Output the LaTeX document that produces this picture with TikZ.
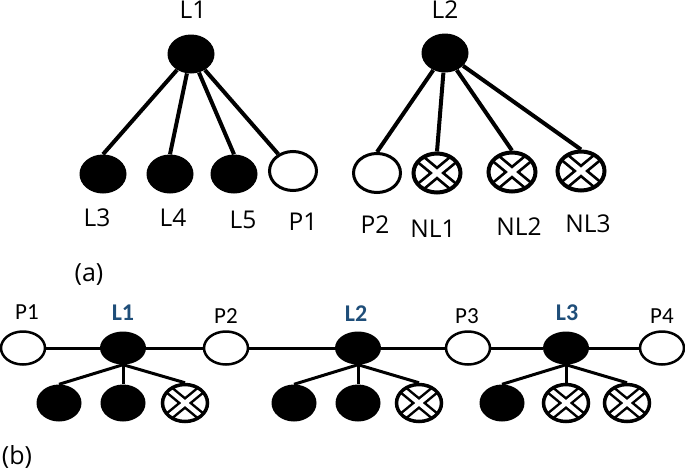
\documentclass[tikz,border=0pt]{standalone}
\usepackage{fontspec}
\usetikzlibrary{shapes.geometric}
\newfontfamily\treefont{Open Sans}
\newfontfamily\chainfont{Carlito}
\definecolor{leaderblue}{RGB}{31,78,121}
\newcommand\crossmark[2]{% #1 = outer width, #2 = inner width
  \draw[black,line width=#1]
    (path picture bounding box.south west) -- (path picture bounding box.north east)
    (path picture bounding box.north west) -- (path picture bounding box.south east);
  \draw[white,line width=#2]
    (path picture bounding box.south west) -- (path picture bounding box.north east)
    (path picture bounding box.north west) -- (path picture bounding box.south east);
}
\tikzset{
  member/.style={ellipse, inner sep=0pt, minimum width=47pt, minimum height=39pt},
  leader/.style={member, fill=black},
  plain/.style={member, draw, fill=white, line width=3pt},
  crossed/.style={member, draw, fill=white, line width=4pt,
    path picture={\crossmark{10.5pt}{5pt}}},
  % smaller members of the chain (b)
  chainhead/.style={leader, minimum width=46pt, minimum height=33pt},
  chainplain/.style={plain, minimum width=44pt, minimum height=33pt, line width=2.5pt},
  chainleaf/.style={leader, minimum width=45pt, minimum height=37pt},
  chaincross/.style={crossed, minimum width=45pt, minimum height=37pt, line width=3.5pt,
    path picture={\crossmark{9.5pt}{4.5pt}}},
  treeedge/.style={line width=4pt},
  chainedge/.style={line width=3pt},
  treelabel/.style={anchor=base, inner sep=0pt, font=\treefont\fontsize{24.5}{29}\selectfont},
  sublabel/.style={treelabel, font=\treefont\fontsize{25}{30}\selectfont},
  chainlabel/.style={anchor=base, inner sep=0pt, font=\chainfont\fontsize{23}{27}\selectfont},
  headlabel/.style={chainlabel, font=\chainfont\bfseries\fontsize{24}{28}\selectfont, text=leaderblue},
}
\begin{document}
\begin{tikzpicture}[x=1pt,y=-1pt]
\useasboundingbox (0,0) rectangle (685,471);

% (a) two trees
\node[leader] (aL1) at (191,54) {};
\node[leader] (aL2) at (445,53) {};
\node[treelabel] (tL1) at (193,18) {L1};
\node[treelabel] (tL2) at (445,18) {L2};
\foreach \n/\x in {L3/103,L4/170,L5/234}
  \node[leader] (a\n) at (\x,174) {};
\node[plain] (aP1) at (293,171) {};
\node[plain] (aP2) at (377,173) {};
\node[crossed] (aNL1) at (437,173) {};
\node[crossed] (aNL2) at (512,172) {};
\node[crossed] (aNL3) at (581,171) {};
\foreach \n in {L3,L4,L5} \draw[treeedge] (aL1) -- (a\n.north);
\draw[treeedge] (aL1) -- (aP1);
\foreach \n in {P2,NL1,NL2,NL3} \draw[treeedge] (aL2) -- (a\n.north);
\foreach \n/\x/\y in {L3/97/226,L4/173/226,L5/243/228,P1/303/230,
                      P2/375/233,NL1/433/237,NL2/519/235,NL3/588/232}
  \node[treelabel] (t\n) at (\x,\y) {\n};
\node[sublabel] (tA) at (89,281) {(a)};

% (b) chain of leaders
\foreach \n/\x in {P1/23,P2/226,P3/468,P4/662}
  \node[chainplain] (b\n) at (\x,348) {};
\foreach \n/\x in {L1/123,L2/358,L3/566}
  \node[chainhead] (b\n) at (\x,348) {};
\draw[chainedge] (bP1) -- (bL1) -- (bP2) -- (bL2) -- (bP3) -- (bL3) -- (bP4);
\foreach \h/\s/\x in {L1/a/59,L1/b/123,L2/a/294,L2/b/358,L3/a/502}
  \node[chainleaf] (c\h\s) at (\x,403) {};
\foreach \h/\s/\x in {L1/c/185,L2/c/419,L3/b/566,L3/c/627}
  \node[chaincross] (c\h\s) at (\x,403) {};
\foreach \h in {L1,L2,L3}
  \foreach \s in {a,b,c}
    \draw[chainedge] (b\h.south) -- (c\h\s.north);
\foreach \n/\x/\y in {P1/27/319,P2/226/323,P3/467/323,P4/662/323}
  \node[chainlabel] (u\n) at (\x,\y) {\n};
\foreach \n/\x/\y in {L1/123/320,L2/356/321,L3/567/320}
  \node[headlabel] (u\n) at (\x,\y) {\n};
\node[sublabel] (tB) at (17,464) {(b)};
\end{tikzpicture}
\end{document}
